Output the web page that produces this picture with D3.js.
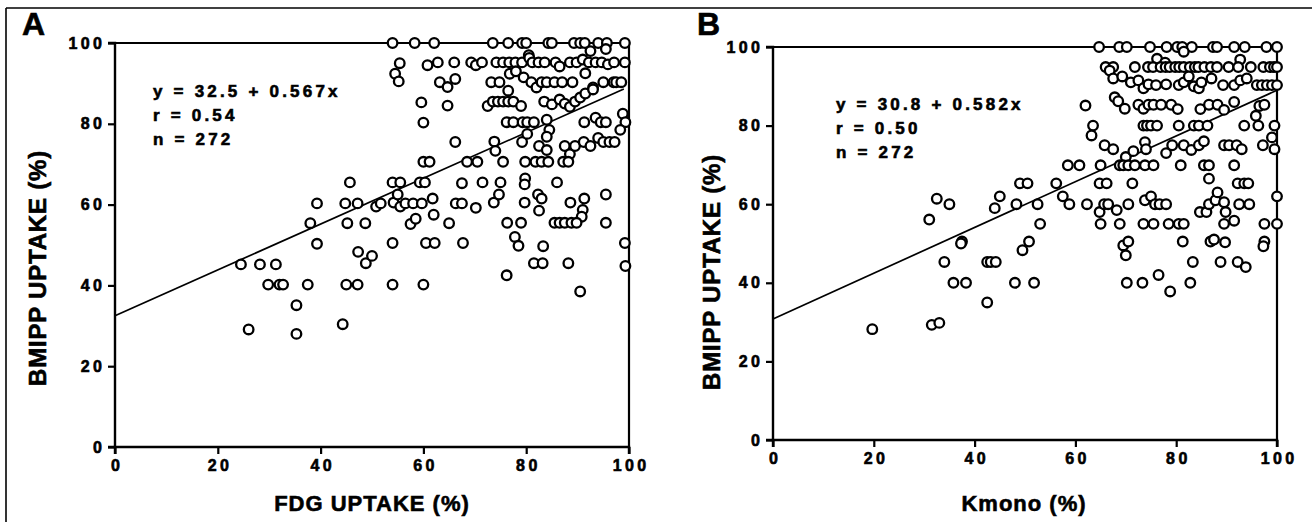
<!DOCTYPE html>
<html><head><meta charset="utf-8">
<script src="https://cdn.jsdelivr.net/npm/d3@7"></script>
<style>
html,body{margin:0;padding:0;background:#fff;}
svg text{font-family:"Liberation Sans",Arial,Helvetica,sans-serif;font-weight:bold;fill:#000;stroke:#000;stroke-width:0.6px;}
</style></head>
<body>
<svg id="chart" width="1312" height="522"></svg>
<script>
// ---------- DATA ----------
const tickValues = [0, 20, 40, 60, 80, 100];
const panelLetters = ["A", "B"];
const xTitles = ["FDG UPTAKE (%)", "Kmono (%)"];
const yTitle = "BMIPP UPTAKE (%)";
const equations = [
  ["y = 32.5 + 0.567x", "r = 0.54", "n = 272"],
  ["y = 30.8 + 0.582x", "r = 0.50", "n = 272"]
];
const intercepts = [32.5, 30.8];
const slopes = [0.567, 0.582];
const lineEndX = [99, 100];

// Panel A: FDG uptake (x) vs BMIPP uptake (y)
const fdgX = [
  54,58.3,62.1,73.5,76.5,79.2,80,84.3,85,89.3,90.5,91.4,94,95.7,99.2,
  92.5,80.5,95.5,
  55.4,60.8,62.8,66,69.3,70.2,71.4,74.2,75.5,76.7,77.9,79.2,80.6,81.2,82.4,83.6,85.7,86.5,88.5,89.8,91,92.2,93.5,94.7,95.9,97.1,99.2,
  54.5,55.2,63.2,64.7,66.2,64.7,59.6,60,66.2,
  73.2,74.8,76.8,78,79.5,81,82,83,84,85.5,87,89,91.5,93,95,97,97.5,98.5,
  76.5,
  72.5,73.5,74.5,75.5,76.5,77.5,79,83.5,85,86.5,87.5,88.5,89.5,90.5,91.5,93,
  76.2,77.5,79.3,80.2,81.5,84.5,84,91.3,93.5,94.5,95.5,98.8,99.3,98.3,
  73.8,74,79.2,80.2,82.5,84,84,87.5,88.5,89.5,91.2,92.5,94,95,96.2,97.2,
  60,61.2,68.5,70.5,75.5,79.8,81.8,83,84.3,87.2,88.2,
  54,55.5,59.3,60.3,67.5,71.5,75,79.8,79.7,86,45.7,
  39.3,44.8,47.2,50.8,51.7,54.2,55,55.5,56.5,58,59.7,61.8,66.3,67.5,70.2,73.7,74.7,79.7,82.3,83,82.5,88.6,91.3,91,90.8,95.5,
  38,45.2,48.7,57.5,58.5,62,65,76.3,79,85.5,86.5,87.5,88.8,89.8,95.5,
  39.3,54,60.5,62.2,67.7,77.8,78.5,83.3,99.2,
  24.5,28.2,31.3,47.3,48.8,50,81.5,83.2,88.2,99.3,
  76.2,
  29.8,32,32.7,37.5,45,47.2,54,60,
  90.5,35.3,44.3,26,35.3
];
const fdgY = [
  100,100,100,100,100,100,100,100,100,100,100,100,100,100,100,
  98,97,98.5,
  95,94.5,95.2,95.2,95.2,94.5,95.2,95.2,95.2,95.2,95.2,95.2,96.3,95.2,95.2,95.2,95.2,94.2,95.2,95.2,95.9,95.2,95.2,95.2,94.7,95.2,95.2,
  92.4,90.5,90.3,89.1,91.1,84.5,85.3,80.3,75.5,
  90.3,90.3,92.4,93,91.5,90.3,89,90.3,90.3,90.3,90.3,90.3,92.5,89,90.3,90.3,90.3,90.3,
  88.2,
  84.4,85.5,85.5,85.5,85.5,85.5,84.4,85.5,84.8,86,85,84.2,85.5,86.5,87.5,88.5,
  80.4,80.4,80.4,80.4,80.4,78.5,81,80.4,81.5,80.4,80.4,82.5,80.4,78.5,
  75.6,73.3,75.5,77.5,74.5,76.8,73.5,74.5,72.5,74.5,75.5,74.5,76.5,75.5,75.5,75.5,
  70.6,70.6,70.6,70.6,70.6,70.6,70.6,70.6,70.6,70.6,70.6,
  65.5,65.5,65.5,65.5,65.3,65.5,65.5,66.5,65,65.5,65.5,
  60.3,60.3,60.3,59.5,60.3,60.5,62.5,59.5,60.3,60.3,60.3,61.5,60.3,60.3,59.2,60.5,62.5,60.5,62.5,61.5,58.5,60.5,61.5,58.7,57,62.5,
  55.4,55.4,55.4,55.2,56.5,57.5,55.4,55.5,55.5,55.5,55.5,55.5,55.5,55.5,55.5,
  50.3,50.5,50.5,50.5,50.5,52,49.8,49.7,50.5,
  45.2,45.2,45.2,48.3,45.5,47.3,45.5,45.5,45.5,44.8,
  42.5,
  40.2,40.2,40.2,40.2,40.2,40.2,40.2,40.2,
  38.5,35.1,30.4,29.1,28
];

// Panel B: Kmono (x) vs BMIPP uptake (y)
const kmonoX = [
  64.7,68.7,70.2,74.8,78.1,80.2,81.2,83.1,87.3,88.1,91.5,93.6,97.9,100,
  81.5,92.7,76.2,77.8,
  66,67.5,71.8,74.4,75.4,76.9,77.9,78.7,79.8,80.6,81.5,82.7,83.7,84.4,85.6,86.9,88.1,90.4,92.3,94.8,97.3,98.6,99.4,100,
  66.8,67.5,69.3,71,72.5,73.5,74.5,76,78,80.5,81.5,82.5,83.5,84.5,85,87,89.3,91.5,92.7,94,96,97,98,99,100,
  62,67.8,68.5,69.8,72.5,73.5,74.5,75.5,77,79,80.3,84.8,86.5,88.2,89.5,91.5,95.8,96.5,97.5,
  63.5,63.2,73.5,74.2,75,76.2,80.5,83.5,84.5,86.2,93.5,96.3,99.5,99,
  65.8,67.5,70,71.5,73.8,74,78,79.2,81.5,83,84.5,85.5,89.5,90.5,92,93,97.2,99.5,
  58.5,60.8,65,68.8,69.5,70.5,71.8,73.8,75.5,80.9,85.5,86.5,91.5,
  49,50.5,56.2,64.8,66.2,71.3,86.5,92.2,93.5,94.3,
  32.5,35,45,44,48.3,52.5,57.5,58.8,62.3,64.8,65.7,66.5,68.2,70.5,73.8,75,75.8,76.7,78,84.7,86,86.5,87.8,88.2,89.5,89.8,92.5,94.5,100,
  31,53,65,68.8,73.5,75.5,78.5,80.5,81.5,89.5,91.5,97.5,100,
  37.5,37.3,50.8,49.5,69.5,70.5,70,81.3,86.8,87.5,89.7,97.5,97.3,
  34,42.5,43.2,44.2,83.3,88.8,92.2,93.8,
  76.5,
  35.8,38.3,48,51.8,70.2,73.3,82.8,
  78.8,42.5,31.5,33,19.7
];
const kmonoY = [
  100,100,100,100,100,100,100,100,100,100,100,100,100,100,
  98.8,96.8,97,96,
  94.9,94.9,94.9,94.9,94.9,94.9,94.9,94.9,94.9,94.9,94.9,94.9,94.9,94.9,94.9,94.9,94.9,94.9,94.9,94.9,94.9,94.9,94.9,94.9,
  94,92,92.5,91,91.5,89.5,90.5,90.3,90.5,90.3,91,92.5,90,89.5,91,92,90.3,90.3,91.5,92,90.3,90.3,90.3,90.3,90.3,
  85.1,87.2,86.2,84.3,85.3,84.3,85.3,85.3,85.3,85.3,84.2,84.2,85.3,85.3,84,86,82.5,85,85.3,
  80,77.5,80,80,80,80,80,80,80,80,80,80,80,77,
  75,74,72,73.5,75.8,74,73,75,75,73.8,75,76,75,75,75,74,75,74,
  69.9,69.9,69.9,69.9,69.9,69.9,69.9,69.9,69.9,69.9,69.9,69.9,69.9,
  65.3,65.3,65.3,65.3,65.3,65.3,66.5,65.3,65.3,65.3,
  61.4,60,62,59,60,60,62,60,60,58,60,60,58.5,60,61,62,60,60,60,58,58,60,61,63,60.5,58,60,60,62,
  56.1,55,55,55,55,55,55,55,55,55,55.8,55,55,
  50.5,50,50.5,48.3,49.5,50.5,47,50.5,50.5,51,50.3,50.5,49.3,
  45.3,45.3,45.3,45.3,45.3,45.3,45.3,44,
  42,
  40,40,40,40,40,40,40,
  37.8,35,29.3,29.8,28.2
];

const panelsData = [
  {xs: fdgX, ys: fdgY},
  {xs: kmonoX, ys: kmonoY}
];

// ---------- LAYOUT ----------
const layouts = [
  {x0: 115, x1: 629, y0: 447, y1: 43, letterX: 22, eqX: 153, eqY: 97, xTitleX: 372, yTitleX: 46, yTitleY: 268},
  {x0: 773, x1: 1277, y0: 440, y1: 47, letterX: 697, eqX: 836, eqY: 110, xTitleX: 1024, yTitleX: 720, yTitleY: 272}
];

const svg = d3.select("#chart");

// outer frame (top and left)
svg.append("line").attr("x1", 6).attr("y1", 8).attr("x2", 1312).attr("y2", 8)
  .attr("stroke", "#000").attr("stroke-width", 1.6);
svg.append("line").attr("x1", 6).attr("y1", 8).attr("x2", 6).attr("y2", 522)
  .attr("stroke", "#000").attr("stroke-width", 1.6);

const LS = 3.4; // letter spacing

layouts.forEach((L, i) => {
  const x = d3.scaleLinear().domain([0, 100]).range([L.x0, L.x1]);
  const y = d3.scaleLinear().domain([0, 100]).range([L.y0, L.y1]);
  const g = svg.append("g");

  // frame box (top and right)
  g.append("path")
    .attr("d", `M${x(0)},${y(100)}H${x(100)}V${y(0)}`)
    .attr("fill", "none").attr("stroke", "#000").attr("stroke-width", 2.2);

  // axes
  const xAxis = d3.axisBottom(x).tickValues(tickValues).tickSize(7).tickPadding(6).tickFormat(d3.format("d"));
  const yAxis = d3.axisLeft(y).tickValues(tickValues).tickSize(7).tickPadding(6).tickFormat(d3.format("d"));
  const gx = g.append("g").attr("transform", `translate(0,${y(0)})`).call(xAxis);
  const gy = g.append("g").attr("transform", `translate(${x(0)},0)`).call(yAxis);
  [gx, gy].forEach(a => {
    a.select(".domain").attr("stroke", "#000").attr("stroke-width", 2.4);
    a.selectAll(".tick line").attr("stroke", "#000").attr("stroke-width", 2.2);
    a.selectAll("text").style("font-size", "16px").style("letter-spacing", LS + "px")
      .style("font-family", "'Liberation Sans', Arial, sans-serif").style("font-weight", "bold");
  });
  gx.select(".domain").attr("d", `M${x(0)},7V0H${x(100)}V7`);
  gy.select(".domain").attr("d", `M-7,${y(0)}H0V${y(100)}H-7`);
  gx.selectAll("text").attr("dx", LS / 2).attr("y", 13);
  gy.selectAll("text").attr("dx", LS);

  // regression line
  const lineX = [0, lineEndX[i]];
  g.append("path")
    .attr("d", d3.line().x(d => x(d)).y(d => y(intercepts[i] + slopes[i] * d))(lineX))
    .attr("fill", "none").attr("stroke", "#000").attr("stroke-width", 1.7);

  // points
  const D = panelsData[i];
  g.append("g").selectAll("circle")
    .data(D.xs.map((v, k) => [v, D.ys[k]]))
    .join("circle")
    .attr("cx", d => x(d[0])).attr("cy", d => y(d[1])).attr("r", 4.8)
    .attr("fill", "#fff").attr("stroke", "#000").attr("stroke-width", 2.3);

  // equation text
  equations[i].forEach((t, k) => {
    g.append("text").attr("x", L.eqX).attr("y", L.eqY + k * 24)
      .style("font-size", "17px").style("letter-spacing", "3.2px").text(t);
  });

  // panel letter
  g.append("text").attr("x", L.letterX).attr("y", 35)
    .style("font-size", "32px").text(panelLetters[i]);

  // x title
  g.append("text").attr("x", L.xTitleX).attr("y", 511).attr("text-anchor", "middle")
    .style("font-size", "22px").style("letter-spacing", "1px").text(xTitles[i]);

  // y title
  g.append("text").attr("transform", `translate(${L.yTitleX},${L.yTitleY}) rotate(-90)`)
    .attr("text-anchor", "middle")
    .style("font-size", "24px").style("letter-spacing", "0.8px").text(yTitle);
});
</script>
</body></html>
